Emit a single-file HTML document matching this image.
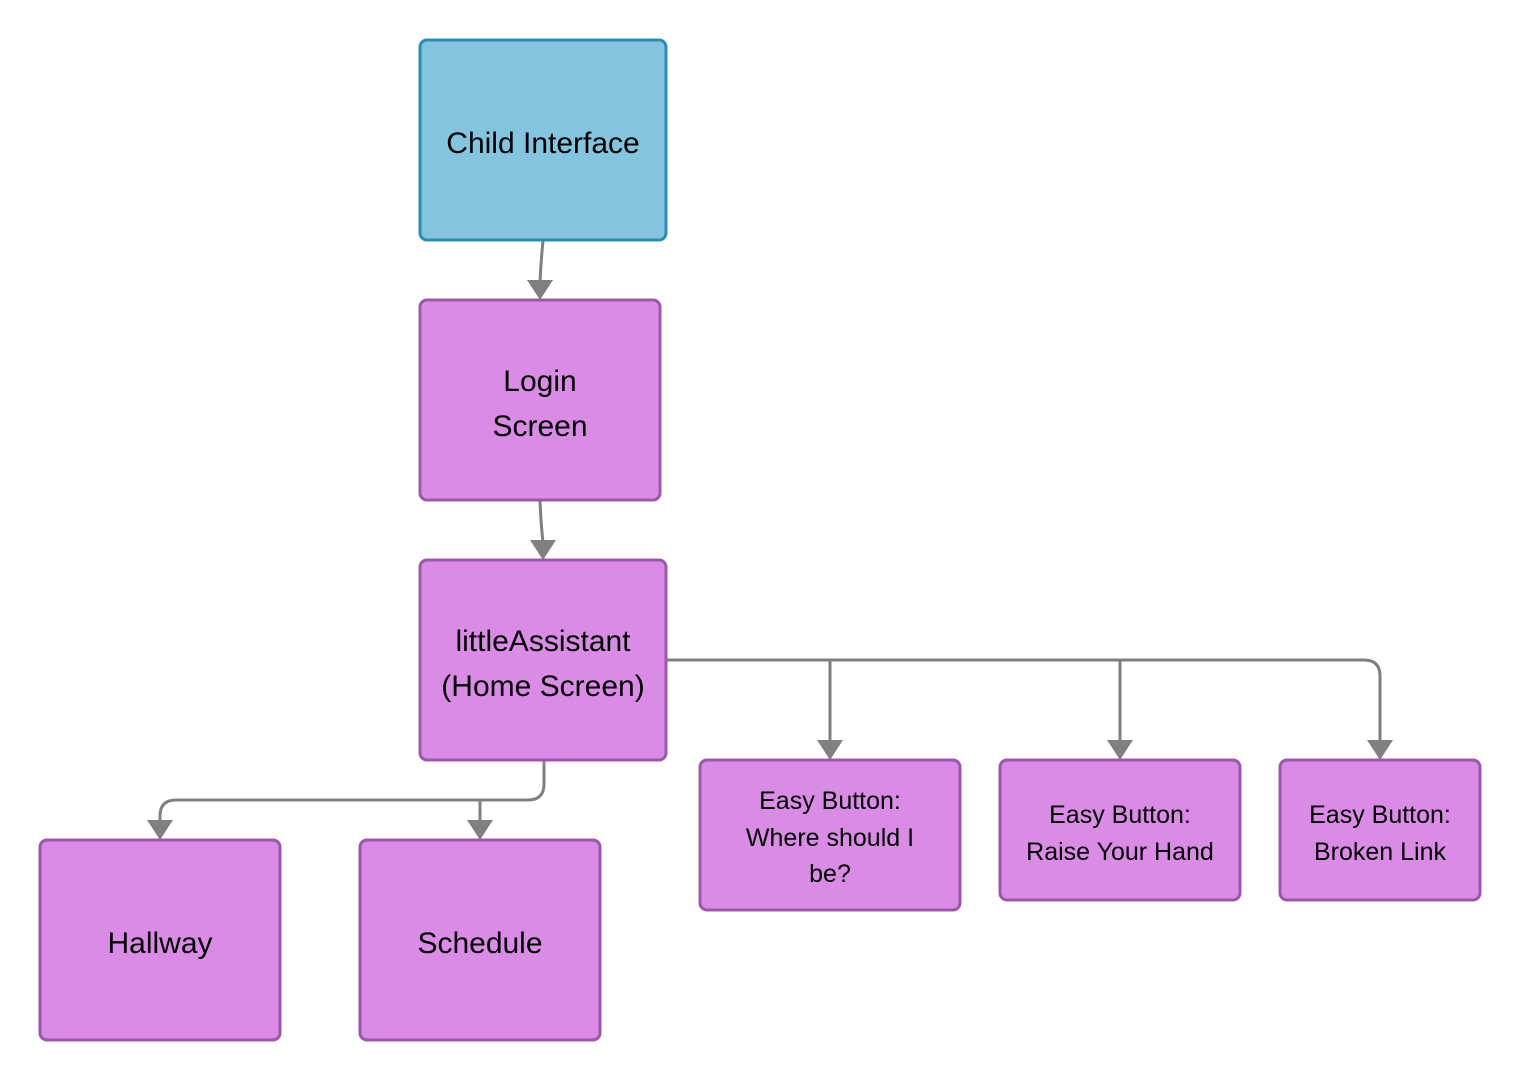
<!DOCTYPE html>
<html><head><style>
html,body{margin:0;padding:0;background:#fff;}
text{font-family:"Liberation Sans",sans-serif;fill:#000;}
</style></head><body>
<svg width="1520" height="1080" viewBox="0 0 1520 1080" xmlns="http://www.w3.org/2000/svg">
<defs>
<marker id="a" markerWidth="10" markerHeight="8" refX="9" refY="4" orient="auto" markerUnits="userSpaceOnUse" viewBox="0 0 10 8">
</marker>
</defs>
<g fill="none" stroke="#808080" stroke-width="3">
<path d="M543 241 Q541 260 540 282"/>
<path d="M540 501 Q541 525 543 542"/>
<path d="M667 660 H1364 Q1380 660 1380 676 V742"/>
<path d="M830 660 V742"/>
<path d="M1120 660 V742"/>
<path d="M544 761 V784 Q544 800 528 800 H176 Q160 800 160 816 V822"/>
<path d="M480 800 V822"/>
</g>
<g fill="#808080">
<path d="M527 280 L553 280 L540 300 Z"/>
<path d="M530 540 L556 540 L543 560 Z"/>
<path d="M817 740 L843 740 L830 760 Z"/>
<path d="M1107 740 L1133 740 L1120 760 Z"/>
<path d="M1367 740 L1393 740 L1380 760 Z"/>
<path d="M147 820 L173 820 L160 840 Z"/>
<path d="M467 820 L493 820 L480 840 Z"/>
</g>
<rect x="420" y="40" width="246" height="200" rx="7" fill="#85c4de" stroke="#2f8bb0" stroke-width="3"/>
<g fill="#d98be6" stroke="#9b59a8" stroke-width="3">
<rect x="420" y="300" width="240" height="200" rx="7"/>
<rect x="420" y="560" width="246" height="200" rx="7"/>
<rect x="40" y="840" width="240" height="200" rx="7"/>
<rect x="360" y="840" width="240" height="200" rx="7"/>
<rect x="700" y="760" width="260" height="150" rx="7"/>
<rect x="1000" y="760" width="240" height="140" rx="7"/>
<rect x="1280" y="760" width="200" height="140" rx="7"/>
</g>
<g text-anchor="middle" font-size="30">
<text x="543" y="153">Child Interface</text>
<text x="540" y="391">Login</text>
<text x="540" y="436">Screen</text>
<text x="543" y="651">littleAssistant</text>
<text x="543" y="696">(Home Screen)</text>
<text x="160" y="953">Hallway</text>
<text x="480" y="953">Schedule</text>
</g>
<g text-anchor="middle" font-size="25">
<text x="830" y="809">Easy Button:</text>
<text x="830" y="846">Where should I</text>
<text x="830" y="882">be?</text>
<text x="1120" y="823">Easy Button:</text>
<text x="1120" y="860">Raise Your  Hand</text>
<text x="1380" y="823">Easy Button:</text>
<text x="1380" y="860">Broken Link</text>
</g>
</svg>
</body></html>
